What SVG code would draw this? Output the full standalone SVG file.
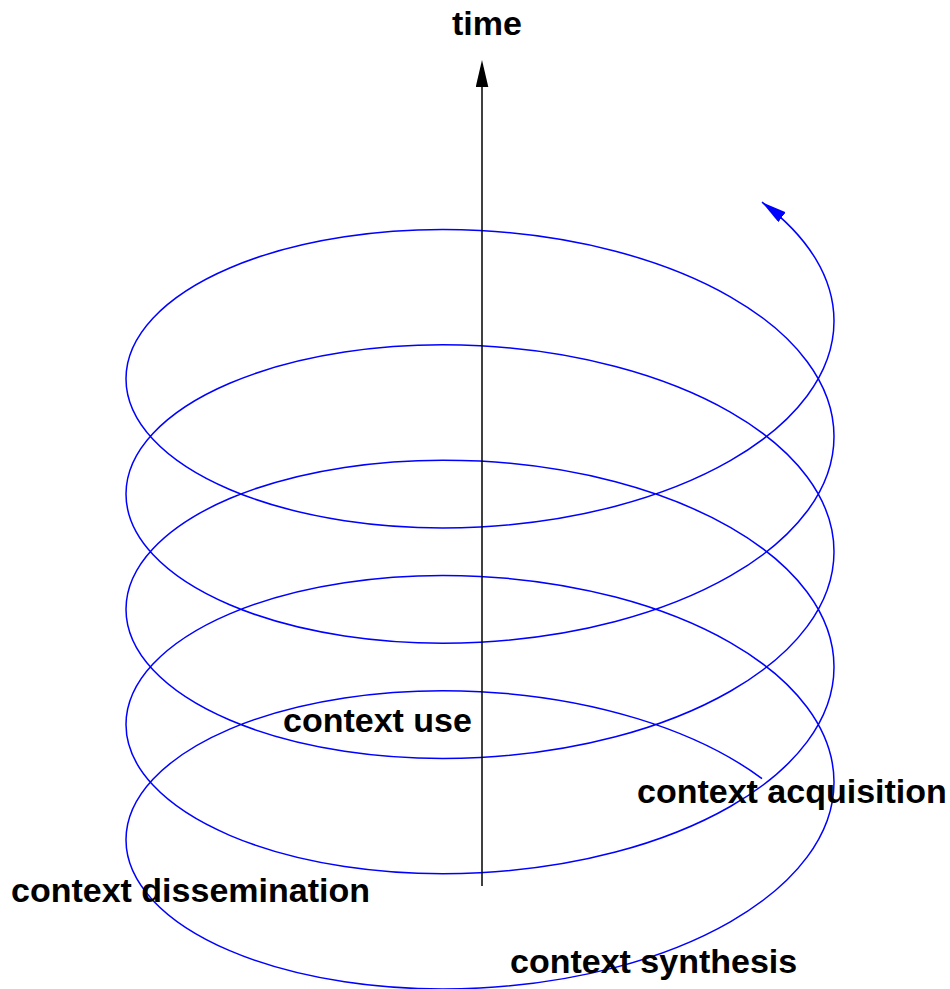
<svg xmlns="http://www.w3.org/2000/svg" width="950" height="989" viewBox="0 0 950 989">
<style>
.lbl{font-family:"Liberation Sans",Arial,Helvetica,sans-serif;font-weight:bold;font-size:34px;fill:#000}
.spiral{fill:none;stroke:#0000ff;stroke-width:1.5}
.axis{fill:none;stroke:#000;stroke-width:1.5}
</style>
<defs>
<marker id="ahBlack" markerUnits="userSpaceOnUse" markerWidth="28" markerHeight="14" viewBox="0 0 28 14" refX="0" refY="6.3" orient="auto">
<path d="M0,0 L27,6.3 L0,12.6 Z" fill="#000"/>
</marker>
<marker id="ahBlue" markerUnits="userSpaceOnUse" markerWidth="27" markerHeight="14" viewBox="0 0 27 14" refX="25" refY="6.2" orient="auto">
<path d="M0,0 L25,6.2 L0,12.4 Z" fill="#0000ff"/>
</marker>
</defs>
<rect width="950" height="989" fill="#fff"/>
<g id="connectors">
<path id="spiral" class="spiral" marker-end="url(#ahBlue)" d="M 762 778.6 C 695.1 728.8 590.7 697.4 480 691.68
c -93.89 -4.87 -183.92 9.11 -250.31 37.43 c -66.39 28.32 -103.69 68.68 -103.69 110.75 c 0 42.07 37.3 82.43 103.69 110.75 c 66.39 28.32 156.42 42.3 250.31 37.43 c 93.89 -4.87 183.92 -28.19 250.31 -66.25 c 66.39 -38.06 103.69 -87.76 103.69 -139.57 c 0 -51.81 -37.3 -101.51 -103.69 -139.57 c -66.39 -38.06 -156.42 -61.38 -250.31 -66.25
c -93.89 -4.87 -183.92 9.11 -250.31 37.43 c -66.39 28.32 -103.69 68.68 -103.69 110.75 c 0 42.07 37.3 82.43 103.69 110.75 c 66.39 28.32 156.42 42.3 250.31 37.43 c 93.89 -4.87 183.92 -28.19 250.31 -66.25 c 66.39 -38.06 103.69 -87.76 103.69 -139.57 c 0 -51.81 -37.3 -101.51 -103.69 -139.57 c -66.39 -38.06 -156.42 -61.38 -250.31 -66.25
c -93.89 -4.87 -183.92 9.11 -250.31 37.43 c -66.39 28.32 -103.69 68.68 -103.69 110.75 c 0 42.07 37.3 82.43 103.69 110.75 c 66.39 28.32 156.42 42.3 250.31 37.43 c 93.89 -4.87 183.92 -28.19 250.31 -66.25 c 66.39 -38.06 103.69 -87.76 103.69 -139.57 c 0 -51.81 -37.3 -101.51 -103.69 -139.57 c -66.39 -38.06 -156.42 -61.38 -250.31 -66.25
c -93.89 -4.87 -183.92 9.11 -250.31 37.43 c -66.39 28.32 -103.69 68.68 -103.69 110.75 c 0 42.07 37.3 82.43 103.69 110.75 c 66.39 28.32 156.42 42.3 250.31 37.43 c 93.89 -4.87 183.92 -28.19 250.31 -66.25 c 66.39 -38.06 103.69 -87.76 103.69 -139.57 c 0 -51.81 -37.3 -101.51 -103.69 -139.57 c -66.39 -38.06 -156.42 -61.38 -250.31 -66.25
c -93.89 -4.87 -183.92 9.11 -250.31 37.43 c -66.39 28.32 -103.69 68.68 -103.69 110.75 c 0 42.07 37.3 82.43 103.69 110.75 c 66.39 28.32 156.42 42.3 250.31 37.43 c 93.89 -4.87 183.92 -28.19 250.31 -66.25 c 66.39 -38.06 103.69 -87.76 103.69 -139.57
c 0 -42.66 -25.26 -84.1 -72 -118.9"/>
<line id="time-axis" class="axis" x1="482" y1="886" x2="482" y2="87" marker-end="url(#ahBlack)"/>
</g>
<g id="label-time"><text class="lbl" x="452" y="35">time</text></g>
<g id="label-use"><text class="lbl" x="283" y="732">context use</text></g>
<g id="label-acquisition"><text class="lbl" x="637" y="803">context acquisition</text></g>
<g id="label-dissemination"><text class="lbl" x="11" y="902">context dissemination</text></g>
<g id="label-synthesis"><text class="lbl" x="510" y="973">context synthesis</text></g>
</svg>
